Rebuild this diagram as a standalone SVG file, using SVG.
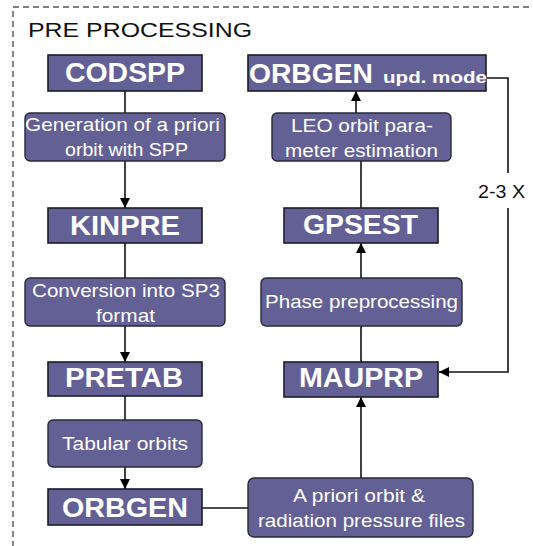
<svg xmlns="http://www.w3.org/2000/svg" width="533" height="546" viewBox="0 0 533 546">
<defs>
<style>
.box{fill:#636096;stroke:#1c1c28;stroke-width:1.6}
.rbox{fill:#636096;stroke:#2a2a38;stroke-width:1.4}
.t{font-family:"Liberation Sans",Arial,sans-serif;font-weight:bold;font-size:27px;fill:#fff;text-anchor:start}
.s{font-family:"Liberation Sans",Arial,sans-serif;font-size:19px;fill:#fff;text-anchor:start}
.c{fill:none;stroke:#111;stroke-width:1.6}
.a{fill:none;stroke:#111;stroke-width:1.6;marker-end:url(#ah)}
</style>
<marker id="ah" viewBox="0 0 10 10" refX="10" refY="5" markerWidth="10" markerHeight="10" markerUnits="userSpaceOnUse" orient="auto">
<path d="M0,0 L10,5 L0,10 Z" fill="#000"/>
</marker>
</defs>
<rect width="533" height="546" fill="#fff"/>
<rect x="13" y="7" width="540" height="560" fill="none" stroke="#555" stroke-width="1.4" stroke-dasharray="6,4"/>
<text x="28" y="37" font-family="Liberation Sans,Arial,sans-serif" font-size="21" fill="#111" textLength="224" lengthAdjust="spacingAndGlyphs">PRE PROCESSING</text>

<g id="connectors">
<line class="c" x1="125" y1="91" x2="125" y2="113"/>
<line class="a" x1="125" y1="161" x2="125" y2="208"/>
<line class="c" x1="125" y1="243" x2="125" y2="278"/>
<line class="a" x1="125" y1="326" x2="125" y2="362"/>
<line class="c" x1="125" y1="396" x2="125" y2="420"/>
<line class="a" x1="125" y1="467" x2="125" y2="489"/>
<line class="c" x1="202" y1="508" x2="248" y2="508"/>
<line class="a" x1="361" y1="478" x2="361" y2="397"/>
<line class="c" x1="361" y1="362" x2="361" y2="326"/>
<line class="a" x1="361" y1="278" x2="361" y2="243"/>
<line class="c" x1="361" y1="208" x2="361" y2="161"/>
<line class="a" x1="356" y1="113" x2="356" y2="91"/>
<polyline class="c" points="486,78 508,78 508,173"/>
<polyline class="a" points="508,208 508,372 439,372"/>
<text x="478" y="198" font-family="Liberation Sans,Arial,sans-serif" font-size="18" fill="#111" textLength="47" lengthAdjust="spacingAndGlyphs">2-3 X</text>
</g>

<g id="codspp"><rect class="box" x="48" y="55" width="154" height="36"/><text class="t" x="65" y="82" textLength="120" lengthAdjust="spacingAndGlyphs">CODSPP</text></g>
<g id="gen"><rect class="rbox" x="25" y="113" width="200" height="48" rx="5"/><text class="s" x="25" y="131" textLength="195" lengthAdjust="spacingAndGlyphs">Generation of a priori</text><text class="s" x="65" y="156" textLength="123" lengthAdjust="spacingAndGlyphs">orbit with SPP</text></g>
<g id="kinpre"><rect class="box" x="48" y="208" width="154" height="35"/><text class="t" x="70" y="235" textLength="110" lengthAdjust="spacingAndGlyphs">KINPRE</text></g>
<g id="conv"><rect class="rbox" x="25" y="278" width="200" height="48" rx="5"/><text class="s" x="32" y="297" textLength="188" lengthAdjust="spacingAndGlyphs">Conversion into SP3</text><text class="s" x="96" y="322" textLength="59" lengthAdjust="spacingAndGlyphs">format</text></g>
<g id="pretab"><rect class="box" x="48" y="362" width="154" height="34"/><text class="t" x="65" y="387" textLength="118" lengthAdjust="spacingAndGlyphs">PRETAB</text></g>
<g id="tabular"><rect class="rbox" x="48" y="420" width="154" height="47" rx="5"/><text class="s" x="62" y="450" textLength="126" lengthAdjust="spacingAndGlyphs">Tabular orbits</text></g>
<g id="orbgen"><rect class="box" x="48" y="489" width="154" height="36"/><text class="t" x="62" y="517" textLength="126" lengthAdjust="spacingAndGlyphs">ORBGEN</text></g>
<g id="apriori"><rect class="rbox" x="248" y="478" width="225" height="59" rx="6"/><text class="s" x="293" y="502" textLength="132" lengthAdjust="spacingAndGlyphs">A priori orbit &amp;</text><text class="s" x="258" y="527" textLength="207" lengthAdjust="spacingAndGlyphs">radiation pressure files</text></g>
<g id="mauprp"><rect class="box" x="284" y="362" width="154" height="35"/><text class="t" x="299" y="387" textLength="124" lengthAdjust="spacingAndGlyphs">MAUPRP</text></g>
<g id="phase"><rect class="rbox" x="261" y="278" width="201" height="48" rx="5"/><text class="s" x="265" y="308" textLength="193" lengthAdjust="spacingAndGlyphs">Phase preprocessing</text></g>
<g id="gpsest"><rect class="box" x="284" y="208" width="154" height="35"/><text class="t" x="303" y="234" textLength="115" lengthAdjust="spacingAndGlyphs">GPSEST</text></g>
<g id="leo"><rect class="rbox" x="272" y="113" width="179" height="48" rx="5"/><text class="s" x="291" y="132" textLength="142" lengthAdjust="spacingAndGlyphs">LEO orbit para-</text><text class="s" x="285" y="157" textLength="153" lengthAdjust="spacingAndGlyphs">meter estimation</text></g>
<g id="orbgen-upd"><rect class="box" x="248" y="55" width="238" height="36"/><text class="t" x="249" y="83" textLength="124" lengthAdjust="spacingAndGlyphs">ORBGEN</text><text class="t" x="383" y="83" style="font-size:17px" textLength="104" lengthAdjust="spacingAndGlyphs">upd. mode</text></g>
</svg>
